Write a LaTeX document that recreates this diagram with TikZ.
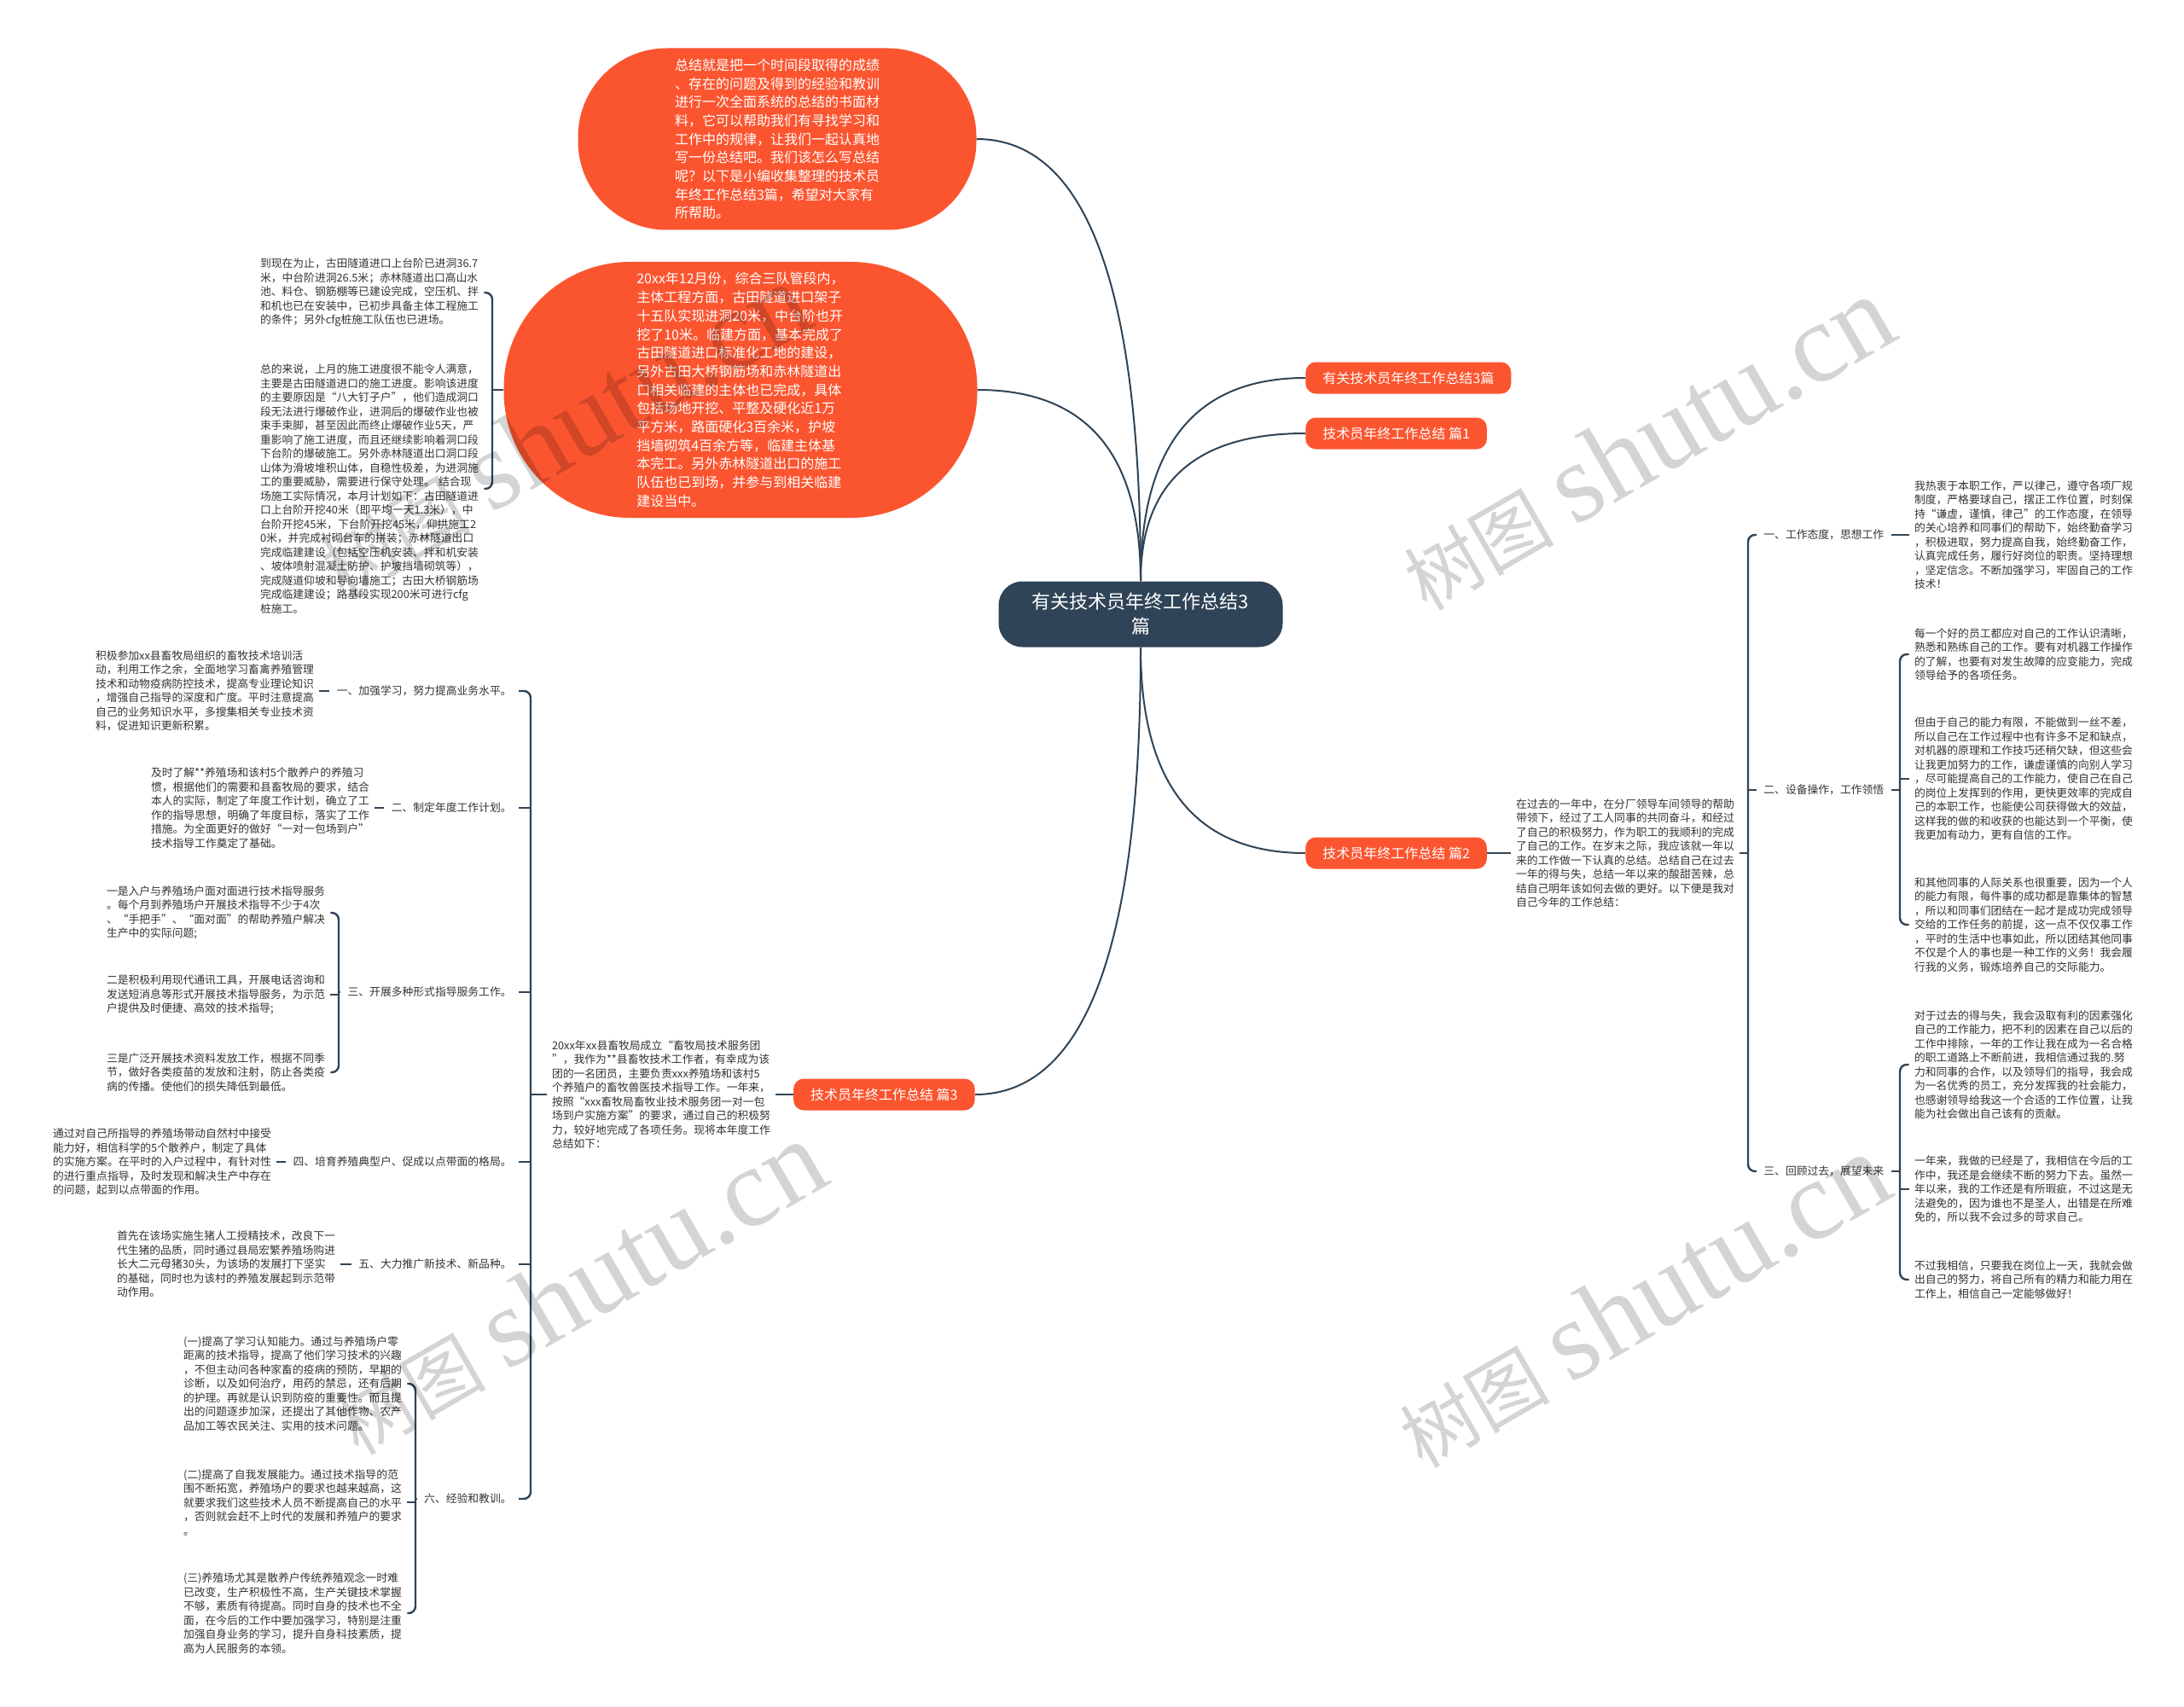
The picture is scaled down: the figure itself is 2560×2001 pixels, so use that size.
\documentclass[tikz,border=0pt]{standalone}
\usepackage{fontspec}
\setmainfont{Noto Sans CJK SC}
\newfontfamily\wmserif{Liberation Serif}
\usetikzlibrary{calc}
\definecolor{orng}{HTML}{FB5530}
\definecolor{slate}{HTML}{2F4456}
\definecolor{txt}{HTML}{333333}
\tikzset{
  txtnode/.style={text width=128pt, align=left, inner sep=3pt, text=txt, font=\fontsize{6.4}{8.25}\selectfont},
  lbl/.style={inner sep=4pt, text=txt, font=\fontsize{6.4}{8.25}\selectfont},
  branch/.style={fill=orng, text=white, rounded corners=6pt, minimum height=18.5pt, inner xsep=10pt, font=\fontsize{8}{10}\selectfont},
  bubble/.style={fill=orng, text=white, align=left, font=\fontsize{8}{10.85}\selectfont},
  rootnode/.style={fill=slate, text=white, rounded corners=14pt, align=center, minimum width=166.5pt, minimum height=38.5pt, font=\fontsize{11}{14.5}\selectfont},
  curve/.style={draw=slate, line width=1pt},
  br/.style={draw=slate, line width=1.2pt, rounded corners=4pt},
  wm/.style={text=black, opacity=0.17, rotate=30, inner sep=0pt}
}
\newcommand{\wmtext}{{\fontsize{44}{44}\selectfont 树图}\hspace{12pt}{\wmserif\fontsize{66}{66}\selectfont shutu.cn}}
\begin{document}
\begin{tikzpicture}[x=0.5pt,y=-0.5pt]
\fill[white] (0,0) rectangle (2560,2001);
\useasboundingbox (0,0) rectangle (2560,2001);

% root and branches
\node[rootnode] (root) at (1337,720) {有关技术员年终工作总结3\\篇};
\node[branch, anchor=west] (b1) at (1530,443) {有关技术员年终工作总结3篇};
\node[branch, anchor=west] (b2) at (1530,508) {技术员年终工作总结 篇1};
\node[branch, anchor=west] (b3) at (1530,1000) {技术员年终工作总结 篇2};
\node[branch, anchor=east] (b4) at (1143,1283) {技术员年终工作总结 篇3};

\node[bubble, minimum width=233.5pt, minimum height=106.5pt, rounded corners=52pt] (bub1) at (911,163) {总结就是把一个时间段取得的成绩\\、存在的问题及得到的经验和教训\\进行一次全面系统的总结的书面材\\料，它可以帮助我们有寻找学习和\\工作中的规律，让我们一起认真地\\写一份总结吧。我们该怎么写总结\\呢？以下是小编收集整理的技术员\\年终工作总结3篇，希望对大家有\\所帮助。};
\node[bubble, minimum width=277.5pt, minimum height=150pt, rounded corners=74pt] (bub2) at (868,457) {20xx年12月份，综合三队管段内，\\主体工程方面，古田隧道进口架子\\十五队实现进洞20米，中台阶也开\\挖了10米。临建方面，基本完成了\\古田隧道进口标准化工地的建设，\\另外古田大桥钢筋场和赤林隧道出\\口相关临建的主体也已完成，具体\\包括场地开挖、平整及硬化近1万\\平方米，路面硬化3百余米，护坡\\挡墙砌筑4百余方等，临建主体基\\本完工。另外赤林隧道出口的施工\\队伍也已到场，并参与到相关临建\\建设当中。};

% curves from root (quadratic-like)
\draw[curve] (root.north) .. controls ($(root.north)!0.667!(root.north |- bub1.east)$) and ($(bub1.east)!0.667!(root.north |- bub1.east)$) .. (bub1.east);
\draw[curve] (root.north) .. controls ($(root.north)!0.667!(root.north |- bub2.east)$) and ($(bub2.east)!0.667!(root.north |- bub2.east)$) .. (bub2.east);
\draw[curve] (root.north) .. controls ($(root.north)!0.667!(root.north |- b1.west)$) and ($(b1.west)!0.667!(root.north |- b1.west)$) .. (b1.west);
\draw[curve] (root.north) .. controls ($(root.north)!0.667!(root.north |- b2.west)$) and ($(b2.west)!0.667!(root.north |- b2.west)$) .. (b2.west);
\draw[curve] (root.south) .. controls ($(root.south)!0.667!(root.south |- b3.west)$) and ($(b3.west)!0.667!(root.south |- b3.west)$) .. (b3.west);
\draw[curve] (root.south) .. controls ($(root.south)!0.667!(root.south |- b4.east)$) and ($(b4.east)!0.667!(root.south |- b4.east)$) .. (b4.east);

% top-left texts
\node[txtnode] (tA) at (433,343) {到现在为止，古田隧道进口上台阶已进洞36.7\\米，中台阶进洞26.5米；赤林隧道出口高山水\\池、料仓、钢筋棚等已建设完成，空压机、拌\\和机也已在安装中，已初步具备主体工程施工\\的条件；另外cfg桩施工队伍也已进场。};
\node[txtnode] (tB) at (433,573) {总的来说，上月的施工进度很不能令人满意，\\主要是古田隧道进口的施工进度。影响该进度\\的主要原因是“八大钉子户”，他们造成洞口\\段无法进行爆破作业，进洞后的爆破作业也被\\束手束脚，甚至因此而终止爆破作业5天，严\\重影响了施工进度，而且还继续影响着洞口段\\下台阶的爆破施工。另外赤林隧道出口洞口段\\山体为滑坡堆积山体，自稳性极差，为进洞施\\工的重要威胁，需要进行保守处理。 结合现\\场施工实际情况，本月计划如下：古田隧道进\\口上台阶开挖40米（即平均一天1.3米），中\\台阶开挖45米，下台阶开挖45米，仰拱施工2\\0米，并完成衬砌台车的拼装；赤林隧道出口\\完成临建建设（包括空压机安装、拌和机安装\\、坡体喷射混凝土防护、护坡挡墙砌筑等），\\完成隧道仰坡和导向墙施工；古田大桥钢筋场\\完成临建建设；路基段实现200米可进行cfg\\桩施工。};
\coordinate (spTL) at (577,457);
\draw[br] (tA.east) -- (tA.east -| spTL) -- (tB.east -| spTL) -- (tB.east);
\draw[br] (bub2.west) -- (spTL);

% branch 3 (left)
\node[txtnode] (t9) at (775,1283) {20xx年xx县畜牧局成立“畜牧局技术服务团\\”，我作为**县畜牧技术工作者，有幸成为该\\团的一名团员，主要负责xxx养殖场和该村5\\个养殖户的畜牧兽医技术指导工作。一年来，\\按照“xxx畜牧局畜牧业技术服务团一对一包\\场到户实施方案”的要求，通过自己的积极努\\力，较好地完成了各项任务。现将本年度工作\\总结如下：};
\draw[br] (b4.west) -- (t9.east);

\node[lbl, anchor=east] (l1) at (608,810) {一、加强学习，努力提高业务水平。};
\node[lbl, anchor=east] (l2) at (608,947) {二、制定年度工作计划。};
\node[lbl, anchor=east] (l3) at (608,1163) {三、开展多种形式指导服务工作。};
\node[lbl, anchor=east] (l4) at (608,1362) {四、培育养殖典型户、促成以点带面的格局。};
\node[lbl, anchor=east] (l5) at (608,1482) {五、大力推广新技术、新品种。};
\node[lbl, anchor=east] (l6) at (608,1757) {六、经验和教训。};
\coordinate (spL) at (622,1283);
\draw[br] (l1.east) -- (l1.east -| spL) -- (l6.east -| spL) -- (l6.east);
\draw[br] (t9.west) -- (spL);
\foreach \n in {l2,l3,l4,l5} \draw[br] (\n.east) -- (\n.east -| spL);

\node[txtnode] (t4) at (240,810) {积极参加xx县畜牧局组织的畜牧技术培训活\\动，利用工作之余，全面地学习畜禽养殖管理\\技术和动物疫病防控技术，提高专业理论知识\\，增强自己指导的深度和广度。平时注意提高\\自己的业务知识水平，多搜集相关专业技术资\\料，促进知识更新积累。};
\draw[br] (t4.east) -- (l1.west);
\node[txtnode] (t5) at (305,947) {及时了解**养殖场和该村5个散养户的养殖习\\惯，根据他们的需要和县畜牧局的要求，结合\\本人的实际，制定了年度工作计划，确立了工\\作的指导思想，明确了年度目标，落实了工作\\措施。为全面更好的做好“一对一包场到户”\\技术指导工作奠定了基础。};
\draw[br] (t5.east) -- (l2.west);

\node[txtnode] (t6a) at (253,1070) {一是入户与养殖场户面对面进行技术指导服务\\。每个月到养殖场户开展技术指导不少于4次\\、“手把手”、“面对面”的帮助养殖户解决\\生产中的实际问题;};
\node[txtnode] (t6b) at (253,1166) {二是积极利用现代通讯工具，开展电话咨询和\\发送短消息等形式开展技术指导服务，为示范\\户提供及时便捷、高效的技术指导;};
\node[txtnode] (t6c) at (253,1257) {三是广泛开展技术资料发放工作，根据不同季\\节，做好各类疫苗的发放和注射，防止各类疫\\病的传播。使他们的损失降低到最低。};
\coordinate (spL3) at (397,1163);
\draw[br] (t6a.east) -- (t6a.east -| spL3) -- (t6c.east -| spL3) -- (t6c.east);
\draw[br] (l3.west) -- (spL3);
\draw[br] (t6b.east) -- (t6b.east -| spL3);

\node[txtnode] (t7) at (190,1362) {通过对自己所指导的养殖场带动自然村中接受\\能力好，相信科学的5个散养户，制定了具体\\的实施方案。在平时的入户过程中，有针对性\\的进行重点指导，及时发现和解决生产中存在\\的问题，起到以点带面的作用。};
\draw[br] (t7.east) -- (l4.west);
\node[txtnode] (t8) at (265,1482) {首先在该场实施生猪人工授精技术，改良下一\\代生猪的品质，同时通过县局宏繁养殖场购进\\长大二元母猪30头，为该场的发展打下坚实\\的基础，同时也为该村的养殖发展起到示范带\\动作用。};
\draw[br] (t8.east) -- (l5.west);

\node[txtnode] (t8a) at (343,1622) {(一)提高了学习认知能力。通过与养殖场户零\\距离的技术指导，提高了他们学习技术的兴趣\\，不但主动问各种家畜的疫病的预防，早期的\\诊断，以及如何治疗，用药的禁忌，还有后期\\的护理。再就是认识到防疫的重要性。而且提\\出的问题逐步加深，还提出了其他作物、农产\\品加工等农民关注、实用的技术问题。};
\node[txtnode] (t8b) at (343,1761) {(二)提高了自我发展能力。通过技术指导的范\\围不断拓宽，养殖场户的要求也越来越高，这\\就要求我们这些技术人员不断提高自己的水平\\，否则就会赶不上时代的发展和养殖户的要求\\。};
\node[txtnode] (t8c) at (343,1891) {(三)养殖场尤其是散养户传统养殖观念一时难\\已改变，生产积极性不高，生产关键技术掌握\\不够，素质有待提高。同时自身的技术也不全\\面，在今后的工作中要加强学习，特别是注重\\加强自身业务的学习，提升自身科技素质，提\\高为人民服务的本领。};
\coordinate (spL6) at (487,1757);
\draw[br] (t8a.east) -- (t8a.east -| spL6) -- (t8c.east -| spL6) -- (t8c.east);
\draw[br] (l6.west) -- (spL6);
\draw[br] (t8b.east) -- (t8b.east -| spL6);

% branch 2 (right)
\node[txtnode] (t2) at (1905,1000) {在过去的一年中，在分厂领导车间领导的帮助\\带领下，经过了工人同事的共同奋斗，和经过\\了自己的积极努力，作为职工的我顺利的完成\\了自己的工作。在岁末之际，我应该就一年以\\来的工作做一下认真的总结。总结自己在过去\\一年的得与失，总结一年以来的酸甜苦辣，总\\结自己明年该如何去做的更好。以下便是我对\\自己今年的工作总结：};
\draw[br] (b3.east) -- (t2.west);

\node[lbl, anchor=west] (r1) at (2059,627) {一、工作态度，思想工作};
\node[lbl, anchor=west] (r2) at (2059,926) {二、设备操作，工作领悟};
\node[lbl, anchor=west] (r3) at (2059,1373) {三、回顾过去，展望未来};
\coordinate (spR) at (2049,1000);
\draw[br] (r1.west) -- (r1.west -| spR) -- (r3.west -| spR) -- (r3.west);
\draw[br] (t2.east) -- (spR);
\draw[br] (r2.west) -- (r2.west -| spR);

\node[txtnode] (tr1) at (2372,627) {我热衷于本职工作，严以律己，遵守各项厂规\\制度，严格要球自己，摆正工作位置，时刻保\\持“谦虚，谨慎，律己”的工作态度，在领导\\的关心培养和同事们的帮助下，始终勤奋学习\\，积极进取，努力提高自我，始终勤奋工作，\\认真完成任务，履行好岗位的职责。坚持理想\\，坚定信念。不断加强学习，牢固自己的工作\\技术！};
\draw[br] (r1.east) -- (tr1.west);

\node[txtnode] (tr2a) at (2372,767) {每一个好的员工都应对自己的工作认识清晰，\\熟悉和熟练自己的工作。要有对机器工作操作\\的了解，也要有对发生故障的应变能力，完成\\领导给予的各项任务。};
\node[txtnode] (tr2b) at (2372,913) {但由于自己的能力有限，不能做到一丝不差，\\所以自己在工作过程中也有许多不足和缺点，\\对机器的原理和工作技巧还稍欠缺，但这些会\\让我更加努力的工作，谦虚谨慎的向别人学习\\，尽可能提高自己的工作能力，使自己在自己\\的岗位上发挥到的作用，更快更效率的完成自\\己的本职工作，也能使公司获得做大的效益，\\这样我的做的和收获的也能达到一个平衡，使\\我更加有动力，更有自信的工作。};
\node[txtnode] (tr2c) at (2372,1084) {和其他同事的人际关系也很重要，因为一个人\\的能力有限，每件事的成功都是靠集体的智慧\\，所以和同事们团结在一起才是成功完成领导\\交给的工作任务的前提，这一点不仅仅事工作\\，平时的生活中也事如此，所以团结其他同事\\不仅是个人的事也是一种工作的义务！我会履\\行我的义务，锻炼培养自己的交际能力。};
\coordinate (spR2) at (2227,926);
\draw[br] (tr2a.west) -- (tr2a.west -| spR2) -- (tr2c.west -| spR2) -- (tr2c.west);
\draw[br] (r2.east) -- (spR2);
\draw[br] (tr2b.west) -- (tr2b.west -| spR2);

\node[txtnode] (tr3a) at (2372,1248) {对于过去的得与失，我会汲取有利的因素强化\\自己的工作能力，把不利的因素在自己以后的\\工作中排除，一年的工作让我在成为一名合格\\的职工道路上不断前进，我相信通过我的.努\\力和同事的合作，以及领导们的指导，我会成\\为一名优秀的员工，充分发挥我的社会能力，\\也感谢领导给我这一个合适的工作位置，让我\\能为社会做出自己该有的贡献。};
\node[txtnode] (tr3b) at (2372,1394) {一年来，我做的已经是了，我相信在今后的工\\作中，我还是会继续不断的努力下去。虽然一\\年以来，我的工作还是有所瑕疵，不过这是无\\法避免的，因为谁也不是圣人，出错是在所难\\免的，所以我不会过多的苛求自己。};
\node[txtnode] (tr3c) at (2372,1500) {不过我相信，只要我在岗位上一天，我就会做\\出自己的努力，将自己所有的精力和能力用在\\工作上，相信自己一定能够做好！};
\coordinate (spR3) at (2227,1373);
\draw[br] (tr3a.west) -- (tr3a.west -| spR3) -- (tr3c.west -| spR3) -- (tr3c.west);
\draw[br] (r3.east) -- (spR3);
\draw[br] (tr3b.west) -- (tr3b.west -| spR3);

% watermarks
\node[wm] (wm1) at (1930,520) {\wmtext};
\node[wm] (wm2) at (1925,1525) {\wmtext};
\node[wm] (wm3) at (660,505) {\wmtext};
\node[wm] (wm4) at (678,1510) {\wmtext};
\end{tikzpicture}
\end{document}
